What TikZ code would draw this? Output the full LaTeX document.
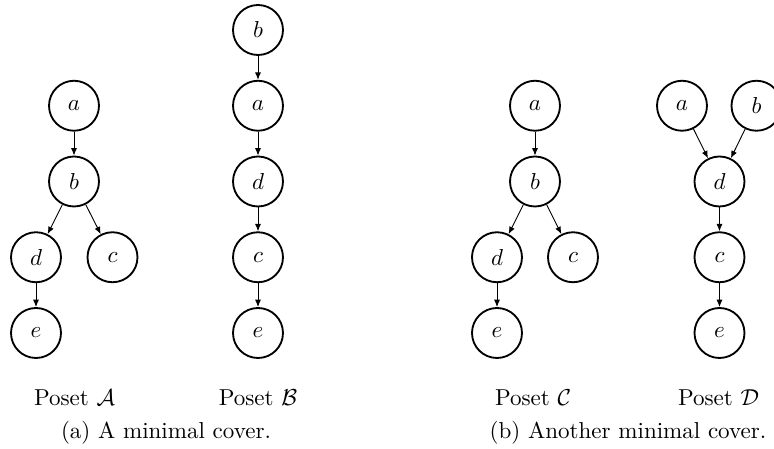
\documentclass[tikz,border=0pt]{standalone}
\usetikzlibrary{arrows.meta}
\begin{document}
\begin{tikzpicture}[x=0.434pt,y=-0.434pt,
  vtx/.style={circle,draw,thick,minimum size=21.7pt,inner sep=0pt},
  arr/.style={-{Latex[length=3.2pt,width=2.6pt]}},
  lbl/.style={anchor=base,inner sep=0pt}]
\useasboundingbox (0,0) rectangle (774,449);
% Poset A
\node[vtx] (Aa) at (74,105.75) {$a$};
\node[vtx] (Ab) at (74,181.5) {$b$};
\node[vtx] (Ad) at (36,257.25) {$d$};
\node[vtx] (Ac) at (112.5,257.25) {$c$};
\node[vtx] (Ae) at (36,333) {$e$};
\draw[arr] (Aa) -- (Ab);
\draw[arr] (Ab) -- (Ad);
\draw[arr] (Ab) -- (Ac);
\draw[arr] (Ad) -- (Ae);
% Poset B
\node[vtx] (Bb) at (258,30) {$b$};
\node[vtx] (Ba) at (258,105.75) {$a$};
\node[vtx] (Bd) at (258,181.5) {$d$};
\node[vtx] (Bc) at (258,257.25) {$c$};
\node[vtx] (Be) at (258,333) {$e$};
\draw[arr] (Bb) -- (Ba);
\draw[arr] (Ba) -- (Bd);
\draw[arr] (Bd) -- (Bc);
\draw[arr] (Bc) -- (Be);
% Poset C
\node[vtx] (Ca) at (535,105.75) {$a$};
\node[vtx] (Cb) at (535,181.5) {$b$};
\node[vtx] (Cd) at (497,257.25) {$d$};
\node[vtx] (Cc) at (573,257.25) {$c$};
\node[vtx] (Ce) at (497,333) {$e$};
\draw[arr] (Ca) -- (Cb);
\draw[arr] (Cb) -- (Cd);
\draw[arr] (Cb) -- (Cc);
\draw[arr] (Cd) -- (Ce);
% Poset D
\node[vtx] (Da) at (682,105.75) {$a$};
\node[vtx] (Db) at (756.5,105.75) {$b$};
\node[vtx] (Dd) at (719.5,181.5) {$d$};
\node[vtx] (Dc) at (719.5,257.25) {$c$};
\node[vtx] (De) at (719.5,333) {$e$};
\draw[arr] (Da) -- (Dd);
\draw[arr] (Db) -- (Dd);
\draw[arr] (Dd) -- (Dc);
\draw[arr] (Dc) -- (De);
% captions
\node[lbl] (tA) at (74.5,406) {Poset $\mathcal{A}$};
\node[lbl] (tB) at (258,406) {Poset $\mathcal{B}$};
\node[lbl] (tC) at (533,406) {Poset $\mathcal{C}$};
\node[lbl] (tD) at (718.5,406) {Poset $\mathcal{D}$};
\node[lbl] (capa) at (166,439) {(a) A minimal cover.};
\node[lbl] (capb) at (628,439) {(b) Another minimal cover.};
\end{tikzpicture}
\end{document}
